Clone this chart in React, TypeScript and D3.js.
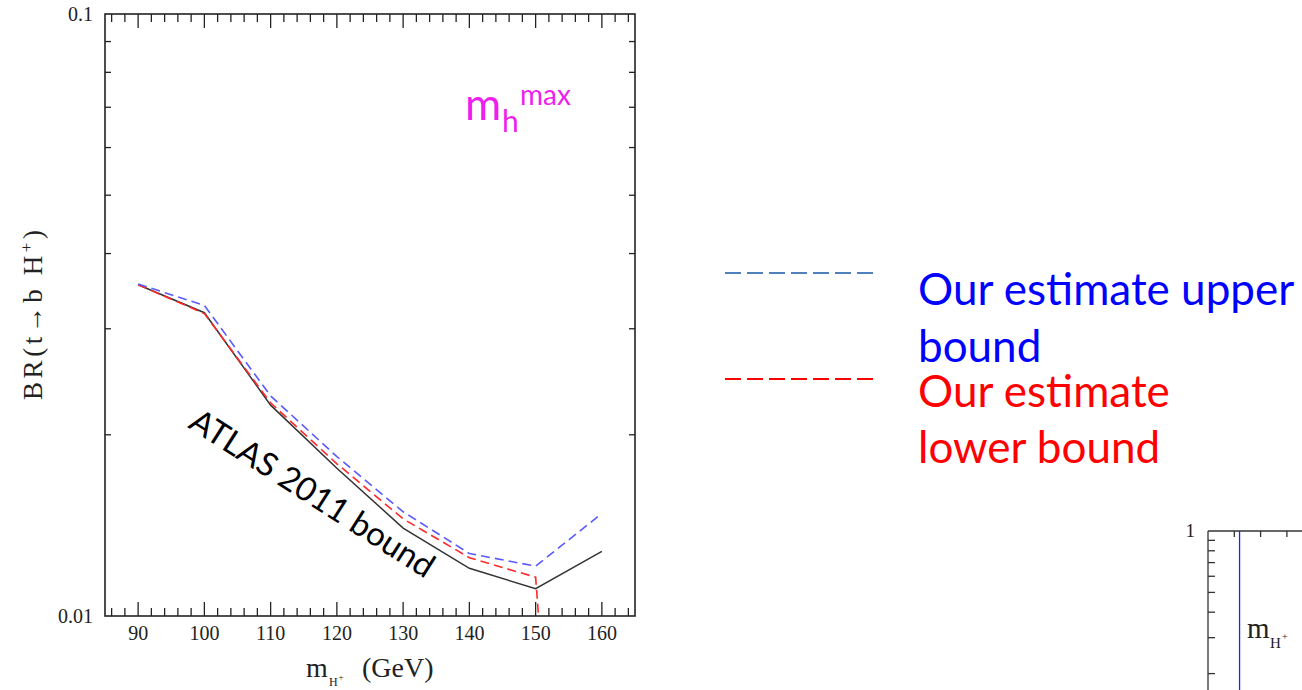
import React from 'react';
import * as d3 from 'd3';

// ---- data ----
const massPoints = [90, 100, 110, 120, 130, 140, 150, 160];
const atlas2011 = [0.0355, 0.0319, 0.0224, 0.0176, 0.014, 0.012, 0.0111, 0.0128];
const upperBound = [0.0356, 0.0328, 0.0232, 0.0184, 0.0149, 0.0127, 0.0121, 0.0148];
const lowerMass = [90, 100, 110, 120, 130, 140, 150, 150.5];
const lowerBound = [0.0355, 0.0318, 0.0226, 0.0179, 0.0145, 0.0125, 0.0116, 0.0098];

const xMajorTicks = [90, 100, 110, 120, 130, 140, 150, 160];
const xMinorTicks = [86, 88, 92, 94, 96, 98, 102, 104, 106, 108, 112, 114, 116, 118, 122, 124, 126, 128, 132, 134, 136, 138, 142, 144, 146, 148, 152, 154, 156, 158, 162, 164];
const yMinorTicks = [0.02, 0.03, 0.04, 0.05, 0.06, 0.07, 0.08, 0.09];
const yLabelTicks = [0.01, 0.1];
const yLabelText = ['0.01', '0.1'];

// partial inset chart at bottom right
const insetYTicks = [0.9, 0.8, 0.7, 0.6, 0.5, 0.4, 0.3, 0.2];
const insetXTicks = [1, 2, 3, 4];
const insetMarker = 1.2;

const W = 1302;
const H = 690;
const L = 105, R = 635, T = 14, B = 616;

const x = d3.scaleLinear().domain([85, 165]).range([L, R]);
const y = d3.scaleLog().domain([0.01, 0.1]).range([B, T]);

const insL = 1208, insT = 531;
const ix = d3.scaleLinear().domain([0, 1]).range([insL, insL + 26.3]);
const iy = d3.scaleLog().domain([1, 0.1]).range([insT, insT + 204]);

const line = d3.line<[number, number]>().x(d => x(d[0])).y(d => y(d[1]));
const zip = (xs: number[], ys: number[]) => xs.map((v, i) => [v, ys[i]] as [number, number]);

const serif = '"Liberation Serif", "DejaVu Serif", serif';
const sans = 'Lato, "Open Sans", sans-serif';

export default function App() {
  return (
    <div style={{ position: 'absolute', left: 0, top: 0 }}>
      <svg width={W} height={H} style={{ display: 'block', background: '#fff' }}>
        <defs>
          <clipPath id="plotClip">
            <rect x={L} y={T} width={R - L} height={B - T} />
          </clipPath>
        </defs>

        {/* ticks */}
        <g stroke="#222" strokeWidth={1.3}>
          {xMajorTicks.map(t => (
            <g key={'M' + t}>
              <line x1={x(t)} x2={x(t)} y1={B} y2={B - 14} />
              <line x1={x(t)} x2={x(t)} y1={T} y2={T + 14} />
            </g>
          ))}
          {xMinorTicks.map(t => (
            <g key={'m' + t}>
              <line x1={x(t)} x2={x(t)} y1={B} y2={B - 8} />
              <line x1={x(t)} x2={x(t)} y1={T} y2={T + 8} />
            </g>
          ))}
          {yMinorTicks.map(t => (
            <g key={'y' + t}>
              <line x1={L} x2={L + 6} y1={y(t)} y2={y(t)} />
              <line x1={R} x2={R - 6} y1={y(t)} y2={y(t)} />
            </g>
          ))}
        </g>

        {/* frame */}
        <rect x={L} y={T} width={R - L} height={B - T} fill="none" stroke="#222" strokeWidth={1.6} />

        {/* tick labels */}
        <g fontFamily={serif} fontSize={20} fill="#222" textAnchor="middle">
          {xMajorTicks.map(t => (
            <text key={'xl' + t} x={x(t)} y={640}>{t}</text>
          ))}
        </g>
        <g fontFamily={serif} fontSize={20} fill="#222" textAnchor="end">
          {yLabelTicks.map((t, i) => (
            <text key={'yl' + t} x={93} y={y(t) + 7}>{yLabelText[i]}</text>
          ))}
        </g>

        {/* axis titles */}
        <text x={306} y={677} fontFamily={serif} fontSize={28} fill="#222">m</text>
        <text x={329} y={686} fontFamily={serif} fontSize={12} fill="#222">H</text>
        <text x={338.5} y={680} fontFamily={serif} fontSize={9} fill="#222">+</text>
        <text x={362} y={677} fontFamily={serif} fontSize={28} fill="#222">(GeV)</text>

        <g transform="translate(42,400) rotate(-90)">
          <text x={0} y={0} fontFamily={serif} fontSize={27} fill="#222" textLength={170} lengthAdjust="spacing">
            BR(t→b  H<tspan fontSize={17} dy={-10}>+</tspan><tspan dy={10}>)</tspan>
          </text>
        </g>

        {/* data lines */}
        <g clipPath="url(#plotClip)" fill="none">
          <path d={line(zip(massPoints, atlas2011)) || ''} stroke="#333" strokeWidth={1.5} />
          <path d={line(zip(lowerMass, lowerBound)) || ''} stroke="#ff2a2a" strokeWidth={1.6} strokeDasharray="9,5" />
          <path d={line(zip(massPoints, upperBound)) || ''} stroke="#5a5aff" strokeWidth={1.6} strokeDasharray="9,5" />
        </g>

        {/* annotations */}
        <g fontFamily={sans} fill="#ee1fee">
          <text x={465} y={120} fontSize={44}>m</text>
          <text x={502} y={132} fontSize={30}>h</text>
          <text x={520} y={105} fontSize={28}>max</text>
        </g>
        <text
          transform="translate(187,427) rotate(32.5)"
          fontFamily={sans}
          fontSize={33}
          fill="#000"
        >
          ATLAS 2011 bound
        </text>

        {/* legend */}
        <line x1={725} x2={873} y1={273} y2={273} stroke="#4f81bd" strokeWidth={2} strokeDasharray="16,6" />
        <line x1={725} x2={873} y1={379} y2={379} stroke="#ff0000" strokeWidth={2} strokeDasharray="16,6" />
        <g fontFamily={sans} fontSize={44}>
          <text x={918} y={305} fill="#0000ff">Our estimate upper</text>
          <text x={918} y={362} fill="#0000ff">bound</text>
          <text x={918} y={407} fill="#ff0000">Our estimate</text>
          <text x={918} y={463} fill="#ff0000">lower bound</text>
        </g>

        {/* partial inset chart */}
        <g stroke="#333" strokeWidth={1.3}>
          <line x1={insL} x2={W} y1={insT} y2={insT} />
          <line x1={insL} x2={insL} y1={insT} y2={H} />
          {insetYTicks.map(t => (
            <line key={'iy' + t} x1={insL} x2={insL + 7} y1={iy(t)} y2={iy(t)} />
          ))}
          {insetXTicks.map(t => (
            <line key={'ix' + t} x1={ix(t)} x2={ix(t)} y1={insT} y2={insT + 6} />
          ))}
        </g>
        <line x1={ix(insetMarker)} x2={ix(insetMarker)} y1={insT} y2={H} stroke="#2020ff" strokeWidth={1.3} />
        <text x={1195} y={iy(1) + 6} fontFamily={serif} fontSize={19} fill="#222" textAnchor="end">1</text>
        <text x={1247} y={638} fontFamily={serif} fontSize={29} fill="#222">m</text>
        <text x={1270} y={648} fontFamily={serif} fontSize={15} fill="#222">H</text>
        <text x={1282} y={640} fontFamily={serif} fontSize={10} fill="#222">+</text>
      </svg>
    </div>
  );
}
